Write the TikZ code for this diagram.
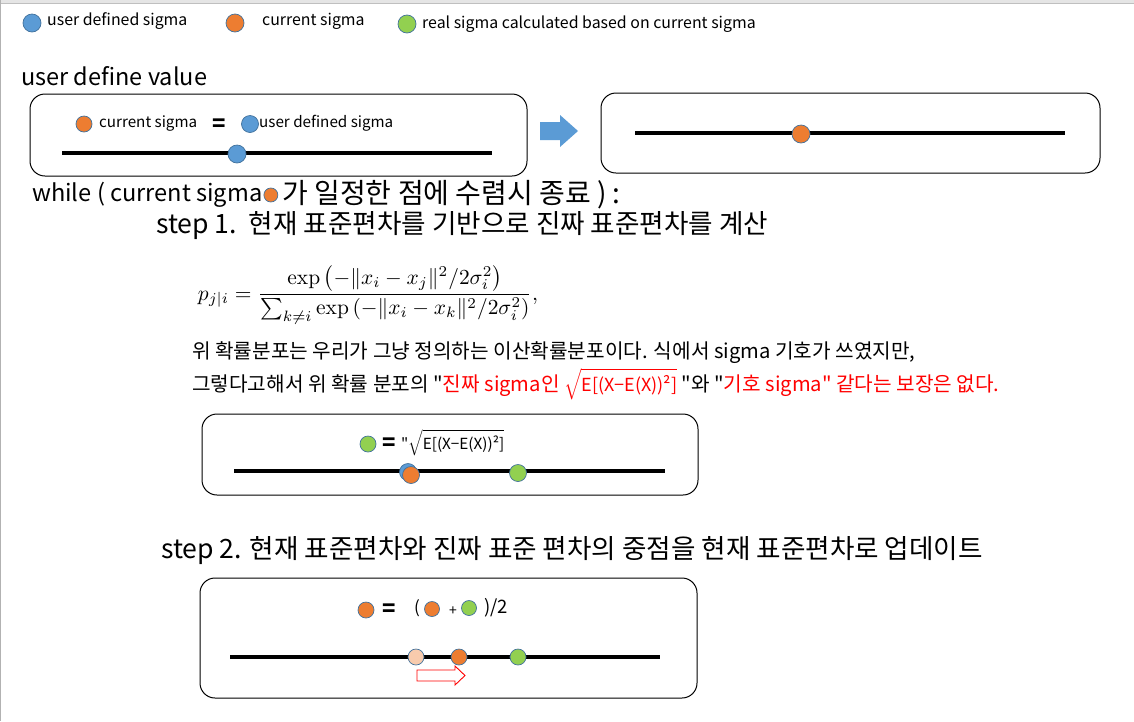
\documentclass[tikz,border=0pt]{standalone}
\usepackage{amsmath}
\usepackage{fontspec}
\newfontfamily\kr{Noto Sans CJK KR}
\usetikzlibrary{positioning}
\definecolor{sblue}{RGB}{91,155,213}
\definecolor{sorange}{RGB}{237,125,49}
\definecolor{sgreen}{RGB}{146,208,80}
\definecolor{sfade}{RGB}{248,203,173}
\definecolor{sedge}{RGB}{65,113,156}
\definecolor{sred}{RGB}{255,0,0}
\tikzset{
  sigdot/.style={circle, draw=sedge, line width=0.7pt, inner sep=0pt, minimum size=#1},
  sigdot/.default=17pt,
  bdot/.style={sigdot, fill=sblue},
  odot/.style={sigdot, fill=sorange},
  gdot/.style={sigdot, fill=sgreen},
  fdot/.style={sigdot, fill=sfade},
  panel/.style={draw=black, line width=1pt, rounded corners=15pt, inner sep=0pt},
  axisline/.style={line width=4pt, black},
  txt/.style={inner sep=0pt, text=black},
  fs/.style={font=\kr\fontsize{#1}{#1}\selectfont},
  eqsign/.style={inner sep=0pt, font=\kr\bfseries\fontsize{#1}{#1}\selectfont},
}
\begin{document}
\begin{tikzpicture}[x=1pt, y=-1pt]
\useasboundingbox (0,0) rectangle (1134,721);
\fill[white] (0,0) rectangle (1134,721);
\fill[black!10] (0,0) rectangle (1134,3.5);
\draw[black!25, line width=0.8pt] (0,3.5) -- (1134,3.5);
\draw[black!30, line width=1.2pt] (0.6,0) -- (0.6,721);

% legend
\node[bdot, minimum width=16pt, minimum height=18pt] (lb) at (32,23) {};
\node[txt, fs=15.9, anchor=west] (lbt) at (47,21) {user defined sigma};
\node[odot, minimum width=16pt, minimum height=18pt] (lo) at (235,23) {};
\node[txt, fs=15.9, anchor=west] (lot) at (262,21) {current sigma};
\node[gdot, minimum width=16pt, minimum height=18pt] (lg) at (407,24) {};
\node[txt, fs=15.9, anchor=west] (lgt) at (422,24) {real sigma calculated based on current sigma};

% user define value
\node[txt, fs=23.5, anchor=west] (udv) at (21,76) {user define value};
\node[panel, minimum width=497pt, minimum height=82pt] (box1) at (278.5,135) {};
\node[odot, minimum size=16pt] (b1o) at (84,124) {};
\node[txt, fs=15.2, anchor=west] (b1ot) at (99,124) {current sigma};
\node[eqsign=22] (b1eq) at (219,125) {=};
\node[bdot, minimum size=17pt] (b1b) at (250,124) {};
\node[txt, fs=15.2, anchor=west] (b1bt) at (259,123) {user defined sigma};
\coordinate (l1a) at (62,153);
\coordinate (l1b) at (492,153);
\draw[axisline] (l1a) -- (l1b);
\node[bdot, minimum size=18pt] (b1p) at (237,154) {};

% blue block arrow
\fill[sblue] (540,122) -- (560,122) -- (560,115) -- (578,131) -- (560,147) -- (560,140) -- (540,140) -- cycle;

\node[panel, minimum width=499pt, minimum height=80pt] (box2) at (850.5,133) {};
\coordinate (l2a) at (635,133);
\coordinate (l2b) at (1065,133);
\draw[axisline] (l2a) -- (l2b);
\node[odot, minimum width=15pt, minimum height=18pt] (b2o) at (801,134) {};

% while line
\node[txt, fs=23.6, anchor=west] (w1) at (32,195) {while ( current sigma};
\node[odot, minimum width=12pt, minimum height=14pt, right=1pt of w1] (wo) {};
\node[txt, fs=28, right=4pt of wo] (w2) {가 일정한 점에 수렴시 종료 ) :};

\node[txt, fs=26.6, anchor=west] (s1) at (156,226) {step 1.\ \ 현재 표준편차를 기반으로 진짜 표준편차를 계산};

% equation
\node[inner sep=0pt] (eq) at (368,295) {\resizebox{340pt}{!}{$p_{j|i}=\dfrac{\exp\left(-\|x_i-x_j\|^2/2\sigma_i^2\right)}{\sum\nolimits_{k\neq i}\exp\left(-\|x_i-x_k\|^2/2\sigma_i^2\right)},$}};

% paragraph
\node[txt, fs=20.2, anchor=west] (p1) at (192,353) {위 확률분포는 우리가 그냥 정의하는 이산확률분포이다. 식에서 sigma 기호가 쓰였지만,};
\node[txt, fs=20.2, anchor=west] (p2) at (192,384) {그렇다고해서 위 확률 분포의 "\textcolor{sred}{진짜 sigma인 {\fontsize{18}{18}\selectfont$\sqrt{\hbox{E[(X−E(X))²]}}$}} "와 "\textcolor{sred}{기호 sigma" 같다는 보장은 없다.}};

% box 3
\node[panel, minimum width=496pt, minimum height=81pt] (box3) at (450,454.5) {};
\node[gdot, minimum size=16pt] (b3g) at (368,444) {};
\node[eqsign=22] (b3eq) at (389,444) {=};
\node[txt, fs=15.3, anchor=west] (b3t) at (401,443) {"$\sqrt{\hbox{E[(X−E(X))²]}}$};
\coordinate (l3a) at (234,471);
\coordinate (l3b) at (665,471);
\draw[axisline] (l3a) -- (l3b);
\node[bdot, minimum size=17pt] (b3b) at (408,472) {};
\node[odot, minimum size=17pt] (b3o) at (411,475) {};
\node[gdot, minimum size=17pt] (b3g2) at (518,473) {};

\node[txt, fs=26.6, anchor=west] (s2) at (161,551) {step 2. 현재 표준편차와 진짜 표준 편차의 중점을 현재 표준편차로 업데이트};

% box 4
\node[panel, minimum width=497pt, minimum height=120pt] (box4) at (448.5,638) {};
\node[odot, minimum size=16pt] (b4o) at (366,610) {};
\node[eqsign=22] (b4eq) at (389,610) {=};
\node[txt, fs=17] (b4p) at (417,608) {(};
\node[odot, minimum size=15pt] (b4o2) at (432,609) {};
\node[txt, fs=14] (b4plus) at (453,611) {+};
\node[gdot, minimum size=15pt] (b4g) at (469,608) {};
\node[txt, fs=18.5, anchor=west] (b4h) at (484,608) {)/2};
\coordinate (l4a) at (230,657);
\coordinate (l4b) at (660,657);
\draw[axisline] (l4a) -- (l4b);
\node[fdot, minimum size=16pt] (b4f) at (416,657) {};
\node[odot, minimum size=16pt] (b4o3) at (459,657) {};
\node[gdot, minimum size=16pt] (b4g3) at (518,657) {};
% red outline arrow
\draw[sred, fill=white, line width=0.9pt] (417,670) -- (455,670) -- (455,666) -- (465,675.5) -- (455,685) -- (455,681) -- (417,681) -- cycle;
\end{tikzpicture}
\end{document}
